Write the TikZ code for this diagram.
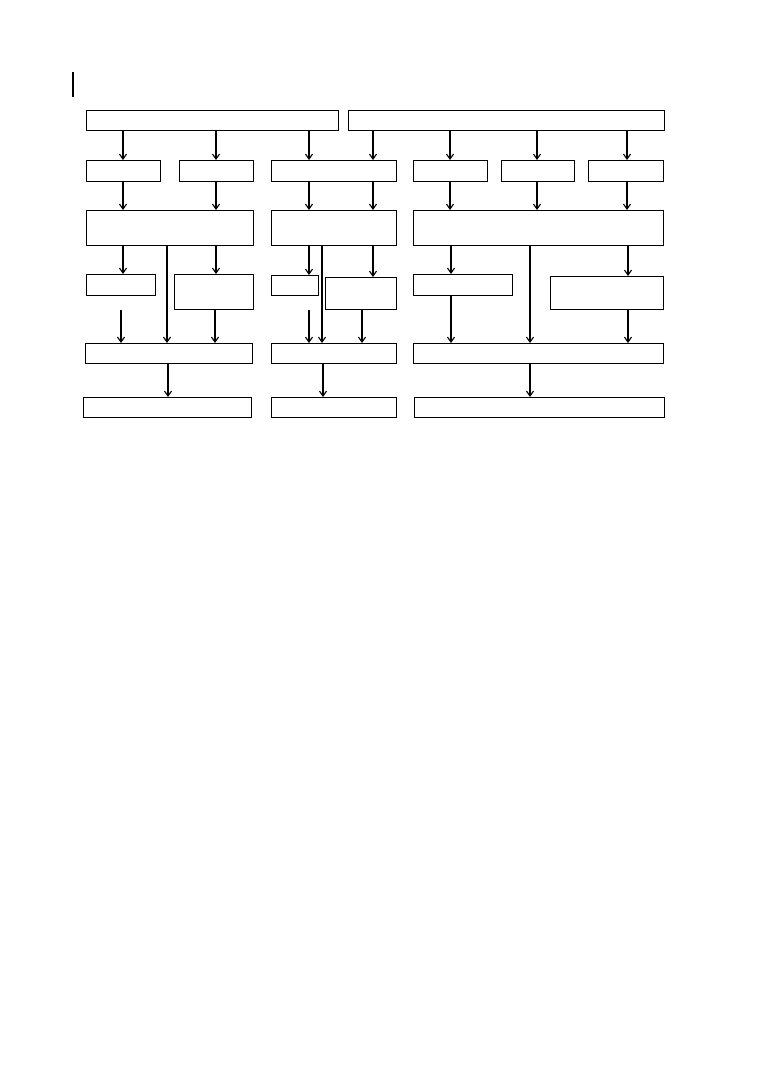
\documentclass[tikz,border=0pt]{standalone}
\usetikzlibrary{arrows.meta}
\tikzset{
  bx/.style={draw=black, line width=1.3pt, rectangle, inner sep=0pt, fill=white},
  arr/.style={draw=black, line width=1.1pt, -{Straight Barb[length=5pt,width=7pt,line width=1.1pt]}},
  plain/.style={draw=black, line width=1.1pt}
}
\newcommand{\mybox}[5]{\node[bx,anchor=north west,minimum width={(#4-(#2))*1pt},minimum height={(#5-(#3))*1pt}] (#1) at (#2,#3) {};}
\newcommand{\vx}[1]{\coordinate (x#1) at (#1,0);}
\begin{document}
\begin{tikzpicture}[x=1pt,y=-1pt]
\useasboundingbox[fill=white] (0,0) rectangle (758,1080);
% mark
\coordinate (m1) at (73,72); \coordinate (m2) at (73,97);
\draw[plain] (m1) -- (m2);
% row 1
\mybox{A}{86}{110}{338}{130}
\mybox{B}{348}{110}{664}{130}
% row 2
\mybox{ra}{86}{160}{160}{181}
\mybox{rb}{179}{160}{253}{181}
\mybox{rc}{271}{160}{396}{181}
\mybox{rd}{413}{160}{487}{181}
\mybox{re}{501}{160}{574}{181}
\mybox{rf}{588}{160}{663}{181}
% row 3
\mybox{sa}{86}{210}{253}{245}
\mybox{sb}{271}{210}{396}{245}
\mybox{sc}{413}{210}{663}{245}
% row 4
\mybox{ta}{86}{274}{155}{295}
\mybox{tb}{174}{274}{253}{309}
\mybox{tc}{271}{275}{318}{295}
\mybox{td}{325}{277}{396}{309}
\mybox{te}{413}{274}{512}{295}
\mybox{tf}{550}{276}{663}{309}
% row 5
\mybox{ua}{85}{343}{252}{363}
\mybox{ub}{271}{343}{396}{363}
\mybox{uc}{413}{343}{663}{363}
% row 6
\mybox{va}{83}{397}{251}{417}
\mybox{vb}{271}{397}{396}{417}
\mybox{vc}{414}{397}{664}{417}
% x positions
\vx{121}\vx{123}\vx{167}\vx{168}\vx{215}\vx{216}\vx{309}\vx{322}\vx{323}\vx{362}\vx{373}\vx{450}\vx{451}\vx{530}\vx{537}\vx{627}\vx{628}
% row1 -> row2
\draw[arr] (A.south -| x123) -- (ra.north -| x123);
\draw[arr] (A.south -| x216) -- (rb.north -| x216);
\draw[arr] (A.south -| x309) -- (rc.north -| x309);
\draw[arr] (B.south -| x373) -- (rc.north -| x373);
\draw[arr] (B.south -| x450) -- (rd.north -| x450);
\draw[arr] (B.south -| x537) -- (re.north -| x537);
\draw[arr] (B.south -| x627) -- (rf.north -| x627);
% row2 -> row3
\draw[arr] (ra.south -| x123) -- (sa.north -| x123);
\draw[arr] (rb.south -| x216) -- (sa.north -| x216);
\draw[arr] (rc.south -| x309) -- (sb.north -| x309);
\draw[arr] (rc.south -| x373) -- (sb.north -| x373);
\draw[arr] (rd.south -| x450) -- (sc.north -| x450);
\draw[arr] (re.south -| x537) -- (sc.north -| x537);
\draw[arr] (rf.south -| x627) -- (sc.north -| x627);
% row3 -> row4 / row5
\draw[arr] (sa.south -| x123) -- (ta.north -| x123);
\draw[arr] (sa.south -| x216) -- (tb.north -| x216);
\draw[arr] (sa.south -| x167) -- (ua.north -| x167);
\draw[arr] (sb.south -| x309) -- (tc.north -| x309);
\draw[arr] (sb.south -| x322) -- (ub.north -| x322);
\draw[arr] (sb.south -| x373) -- (td.north -| x373);
\draw[arr] (sc.south -| x451) -- (te.north -| x451);
\draw[arr] (sc.south -| x530) -- (uc.north -| x530);
\draw[arr] (sc.south -| x628) -- (tf.north -| x628);
% row4 -> row5
\coordinate (f1) at (121,310);
\coordinate (f2) at (309,310);
\draw[arr] (f1) -- (ua.north -| f1);
\draw[arr] (tb.south -| x215) -- (ua.north -| x215);
\draw[arr] (f2) -- (ub.north -| f2);
\draw[arr] (td.south -| x362) -- (ub.north -| x362);
\draw[arr] (te.south -| x451) -- (uc.north -| x451);
\draw[arr] (tf.south -| x628) -- (uc.north -| x628);
% row5 -> row6
\draw[arr] (ua.south -| x168) -- (va.north -| x168);
\draw[arr] (ub.south -| x323) -- (vb.north -| x323);
\draw[arr] (uc.south -| x530) -- (vc.north -| x530);
\end{tikzpicture}
\end{document}
